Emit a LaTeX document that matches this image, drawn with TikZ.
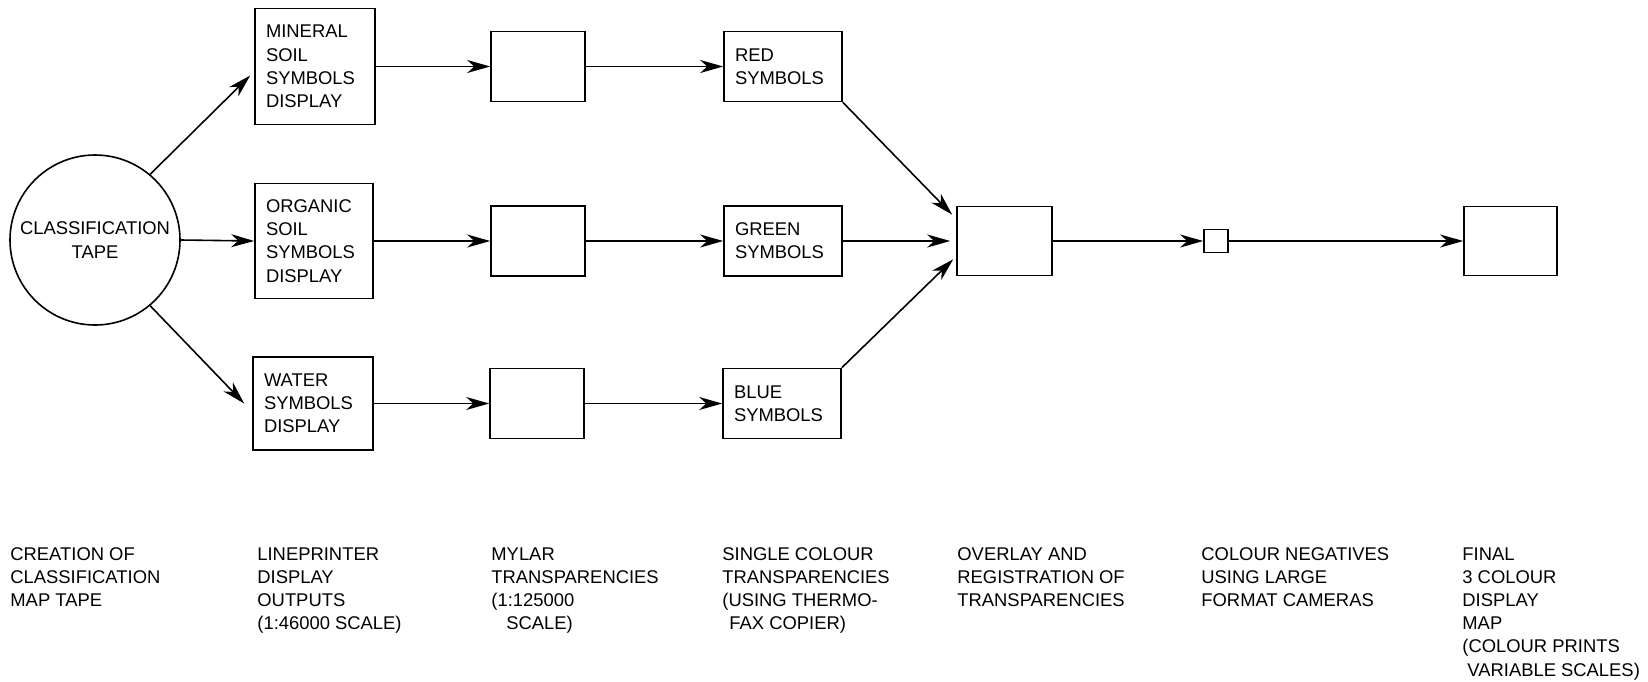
\documentclass[tikz,border=0pt]{standalone}
\usepackage{fontspec}
\setmainfont{Liberation Sans}
\usetikzlibrary{arrows.meta,calc}

\begin{document}
\begin{tikzpicture}[x=0.5pt,y=-0.5pt,
  font=\fontsize{9.2}{11.6}\selectfont,
  ln/.style={line width=0.8pt},
  arr/.style={ln,-{Stealth[length=11.5pt,width=6.5pt,inset=3.5pt]}},
  box/.style={draw,ln,inner sep=0pt},
  txtbox/.style={box,align=left,inner xsep=5.5pt,inner ysep=0pt,text width=#1},
  lbl/.style={anchor=north west,align=left,inner sep=0pt}
]
\useasboundingbox (0,0) rectangle (1648,681);

% source tape
\node[draw,ln,circle,minimum size=85pt,inner sep=0pt,align=center] (tape) at (95,240) {CLASSIFICATION\\TAPE};

% lineprinter displays
\node[txtbox=49pt,minimum height=58pt] (mineral) at (315,66.5) {MINERAL\\SOIL\\SYMBOLS\\DISPLAY};
\node[txtbox=48pt,minimum height=57.5pt] (organic) at (314,241) {ORGANIC\\SOIL\\SYMBOLS\\DISPLAY};
\node[txtbox=49pt,minimum height=46.5pt] (water) at (313,403.5) {WATER\\SYMBOLS\\DISPLAY};

% mylar transparencies
\node[box,minimum width=47pt,minimum height=35pt] (myA) at (538,66.5) {};
\node[box,minimum width=47pt,minimum height=35pt] (myB) at (538,241) {};
\node[box,minimum width=47pt,minimum height=35pt] (myC) at (537,403.5) {};

% single colour transparencies
\node[txtbox=48pt,minimum height=35pt] (red) at (783,66.5) {RED\\SYMBOLS};
\node[txtbox=48pt,minimum height=35pt] (green) at (783,241) {GREEN\\SYMBOLS};
\node[txtbox=48pt,minimum height=35pt] (blue) at (782,403.5) {BLUE\\SYMBOLS};

% overlay, negative, final map
\node[box,minimum width=47.5pt,minimum height=34.5pt] (overlay) at (1004.5,241) {};
\node[box,minimum width=12pt,minimum height=11.5pt] (neg) at (1216,241) {};
\node[box,minimum width=46.5pt,minimum height=34.5pt] (final) at (1510.5,241) {};

% connectors
\draw[arr] (tape.50) -- ([shift={(-4,9)}]mineral.west);
\draw[arr] (tape.east) -- (organic.west);
\draw[arr] (tape.-50) -- ([xshift=-4]water.west);

\draw[arr] (mineral.east) -- (myA.west);
\draw[arr] (organic.east) -- (myB.west);
\draw[arr] (water.east) -- (myC.west);

\draw[arr] (myA.east) -- (red.west);
\draw[arr] (myB.east) -- (green.west);
\draw[arr] (myC.east) -- (blue.west);

\draw[arr] (red.south east) -- ([shift={(-4,9)}]overlay.north west);
\draw[arr] (green.east) -- ([xshift=-3]overlay.west);
\draw[arr] (blue.north east) -- ([shift={(-3,-17)}]overlay.south west);

\draw[arr] (overlay.east) -- (neg.west);
\draw[arr] (neg.east) -- (final.west);

% stage captions
\node[lbl] (s1) at (10,547) {CREATION OF\\CLASSIFICATION\\MAP TAPE};
\node[lbl] (s2) at (257,547) {LINEPRINTER\\DISPLAY\\OUTPUTS\\(1:46000 SCALE)};
\node[lbl] (s3) at (491,547) {MYLAR\\TRANSPARENCIES\\(1:125000\\\hspace*{7.5pt}SCALE)};
\node[lbl] (s4) at (722,547) {SINGLE COLOUR\\TRANSPARENCIES\\(USING THERMO-\\\hspace*{3.5pt}FAX COPIER)};
\node[lbl] (s5) at (957,547) {OVERLAY AND\\REGISTRATION OF\\TRANSPARENCIES};
\node[lbl] (s6) at (1201,547) {COLOUR NEGATIVES\\USING LARGE\\FORMAT CAMERAS};
\node[lbl] (s7) at (1462,547) {FINAL\\3 COLOUR\\DISPLAY\\MAP\\(COLOUR PRINTS\\\hspace*{2.5pt}VARIABLE SCALES)};
\end{tikzpicture}
\end{document}
